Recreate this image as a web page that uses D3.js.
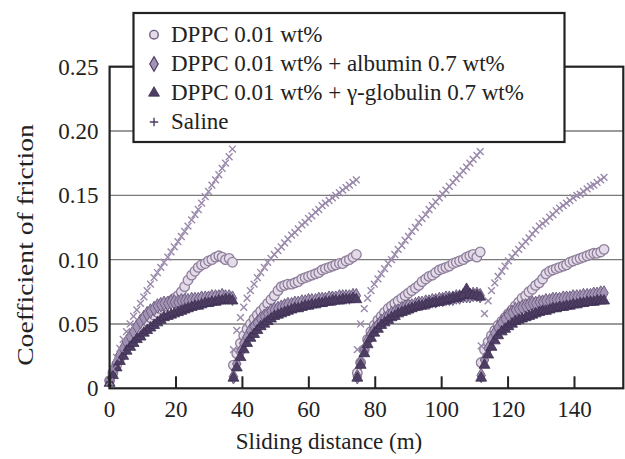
<!DOCTYPE html>
<html>
<head>
<meta charset="utf-8">
<script src="https://cdn.jsdelivr.net/npm/d3@7"></script>
<style>
  body { margin: 0; background: #fff; }
  svg { display: block; }
</style>
</head>
<body>
<div id="chart"></div>
<script>
// Chart size
const width = 625;
const height = 459;
const font = 'Liberation Serif';

// Sliding distance inside one run (m) and where each of the 4 runs starts
const cycleDist = [0, 1, 2.1, 3.1, 4.1, 5.1, 6.2, 7.2, 8.2, 9.3, 10.3, 11.3, 12.3, 13.4, 14.4, 15.4, 16.4, 17.5,
  18.5, 19.5, 20.6, 21.6, 22.6, 23.6, 24.7, 25.7, 26.7, 27.7, 28.8, 29.8, 30.8, 31.9, 32.9, 33.9, 34.9, 36, 37];
const cycleStart = [0, 37.3, 74.6, 111.9];

// Coefficient of friction, one list per run
const dppc = [
  [0.006,0.012,0.018,0.024,0.029,0.033,0.036,0.039,0.042,0.046,0.049,0.052,0.055,0.057,0.059,0.062,0.064,0.066,0.068,0.07,0.072,0.075,0.079,0.084,0.088,0.091,0.094,0.096,0.097,0.099,0.1,0.102,0.103,0.102,0.1,0.101,0.098],
  [0.018,0.027,0.035,0.041,0.046,0.05,0.054,0.057,0.06,0.063,0.066,0.069,0.072,0.076,0.079,0.08,0.081,0.081,0.082,0.083,0.085,0.086,0.087,0.088,0.089,0.09,0.092,0.093,0.094,0.095,0.096,0.097,0.097,0.099,0.1,0.102,0.104],
  [0.012,0.02,0.03,0.038,0.044,0.049,0.053,0.056,0.059,0.062,0.064,0.066,0.068,0.07,0.072,0.074,0.076,0.078,0.08,0.083,0.085,0.087,0.088,0.09,0.092,0.093,0.094,0.095,0.097,0.098,0.099,0.1,0.102,0.103,0.104,0.102,0.106],
  [0.02,0.03,0.036,0.041,0.045,0.049,0.052,0.055,0.058,0.061,0.064,0.067,0.07,0.072,0.075,0.077,0.08,0.082,0.085,0.089,0.091,0.092,0.093,0.094,0.095,0.096,0.098,0.099,0.1,0.101,0.102,0.103,0.104,0.105,0.105,0.106,0.108]
];
const dppcAlbumin = [
  [0.006,0.013,0.02,0.026,0.031,0.036,0.04,0.044,0.048,0.052,0.055,0.058,0.06,0.062,0.064,0.065,0.066,0.066,0.067,0.067,0.067,0.068,0.068,0.068,0.069,0.069,0.069,0.07,0.07,0.07,0.071,0.071,0.071,0.072,0.071,0.071,0.07],
  [0.009,0.019,0.028,0.035,0.04,0.045,0.048,0.051,0.054,0.056,0.058,0.06,0.061,0.062,0.063,0.064,0.065,0.065,0.066,0.066,0.067,0.067,0.068,0.068,0.068,0.069,0.069,0.069,0.07,0.07,0.07,0.071,0.071,0.071,0.071,0.072,0.072],
  [0.009,0.02,0.03,0.037,0.042,0.046,0.049,0.052,0.054,0.056,0.058,0.059,0.06,0.062,0.063,0.064,0.064,0.065,0.066,0.066,0.067,0.067,0.068,0.068,0.069,0.069,0.07,0.07,0.07,0.071,0.071,0.072,0.072,0.072,0.073,0.073,0.072],
  [0.01,0.022,0.031,0.038,0.043,0.047,0.051,0.054,0.057,0.059,0.061,0.062,0.063,0.064,0.065,0.066,0.066,0.067,0.067,0.068,0.068,0.069,0.069,0.069,0.07,0.07,0.07,0.071,0.071,0.071,0.072,0.072,0.072,0.073,0.073,0.074,0.074]
];
const dppcGlobulin = [
  [0.004,0.01,0.016,0.021,0.025,0.029,0.032,0.035,0.038,0.04,0.043,0.045,0.047,0.049,0.051,0.053,0.055,0.056,0.057,0.058,0.059,0.06,0.061,0.062,0.063,0.064,0.064,0.065,0.066,0.066,0.067,0.067,0.068,0.068,0.069,0.069,0.068],
  [0.008,0.016,0.024,0.03,0.035,0.039,0.042,0.045,0.048,0.05,0.052,0.054,0.056,0.057,0.058,0.059,0.06,0.061,0.062,0.062,0.063,0.064,0.064,0.065,0.065,0.066,0.066,0.067,0.067,0.068,0.068,0.068,0.069,0.069,0.069,0.07,0.069],
  [0.008,0.018,0.027,0.034,0.039,0.043,0.046,0.049,0.051,0.053,0.055,0.056,0.058,0.059,0.06,0.061,0.062,0.063,0.064,0.064,0.065,0.066,0.066,0.067,0.067,0.068,0.068,0.069,0.07,0.07,0.071,0.072,0.077,0.073,0.072,0.072,0.071],
  [0.008,0.018,0.026,0.032,0.037,0.041,0.044,0.046,0.048,0.05,0.052,0.053,0.054,0.055,0.056,0.057,0.058,0.059,0.06,0.06,0.061,0.062,0.062,0.063,0.063,0.064,0.064,0.065,0.065,0.066,0.066,0.067,0.067,0.067,0.068,0.068,0.068]
];
const saline = [
  [0.005,0.015,0.024,0.031,0.038,0.044,0.05,0.056,0.061,0.066,0.071,0.076,0.081,0.086,0.09,0.094,0.098,0.102,0.106,0.11,0.114,0.118,0.122,0.126,0.131,0.135,0.139,0.144,0.149,0.153,0.158,0.162,0.166,0.171,0.175,0.18,0.186],
  [0.03,0.045,0.055,0.063,0.07,0.076,0.081,0.086,0.09,0.094,0.098,0.101,0.104,0.107,0.11,0.113,0.116,0.119,0.121,0.124,0.127,0.129,0.132,0.134,0.137,0.139,0.142,0.144,0.146,0.148,0.15,0.152,0.154,0.156,0.158,0.16,0.162],
  [0.03,0.05,0.062,0.07,0.076,0.081,0.085,0.089,0.093,0.097,0.1,0.104,0.108,0.111,0.115,0.118,0.122,0.125,0.129,0.132,0.135,0.139,0.142,0.145,0.148,0.151,0.154,0.157,0.16,0.163,0.166,0.169,0.172,0.175,0.178,0.181,0.184],
  [0.033,0.058,0.068,0.076,0.082,0.087,0.091,0.095,0.099,0.102,0.105,0.108,0.111,0.114,0.117,0.12,0.123,0.126,0.128,0.13,0.133,0.135,0.138,0.14,0.142,0.144,0.146,0.148,0.15,0.151,0.153,0.155,0.157,0.158,0.16,0.162,0.164]
];

const seriesNames = ["DPPC 0.01 wt%", "DPPC 0.01 wt% + albumin 0.7 wt%",
  "DPPC 0.01 wt% + \u03b3-globulin 0.7 wt%", "Saline"];
const xTicks = [0, 20, 40, 60, 80, 100, 120, 140];
const yTicks = [0, 0.05, 0.10, 0.15, 0.20, 0.25];

const svg = d3.select('#chart').append('svg')
  .attr('width', width)
  .attr('height', height);

svg.append('rect').attr('width', width).attr('height', height).attr('fill', '#fff');

const x = d3.scaleLinear().domain([0, 154.7]).range([109.6, 623.3]);
const y = d3.scaleLinear().domain([0, 0.25]).range([388.3, 66.7]);

function label(parent) {
  return parent.append('text')
    .attr('class', 'lbl')
    .style('font-family', font)
    .style('font-size', '23px')
    .attr('fill', '#222');
}

// gridlines
svg.append('g')
  .selectAll('line')
  .data(yTicks.filter(d => d > 0 && d < 0.25))
  .enter().append('line')
  .attr('x1', x.range()[0]).attr('x2', x.range()[1])
  .attr('y1', d => y(d)).attr('y2', d => y(d))
  .attr('stroke', '#7a7a7a')
  .attr('stroke-width', 1.3);

// points: flatten runs into {x, y}
function points(runs) {
  const out = [];
  runs.forEach((run, c) => {
    run.forEach((v, i) => out.push({ x: cycleStart[c] + cycleDist[i], y: v }));
  });
  return out;
}

const plot = svg.append('g');

plot.append('g').selectAll('circle')
  .data(points(dppc))
  .enter().append('circle')
  .attr('cx', d => x(d.x)).attr('cy', d => y(d.y))
  .attr('r', 4.8)
  .attr('fill', '#e3dbe8')
  .attr('stroke', '#8f7f9c')
  .attr('stroke-width', 1.3);

const diamond = d3.symbol().type(d3.symbolDiamond).size(62);
plot.append('g').selectAll('path')
  .data(points(dppcAlbumin))
  .enter().append('path')
  .attr('d', diamond)
  .attr('transform', d => `translate(${x(d.x)},${y(d.y)})`)
  .attr('fill', '#a394b6')
  .attr('stroke', '#6f6082')
  .attr('stroke-width', 1);

const triangle = d3.symbol().type(d3.symbolTriangle).size(52);
plot.append('g').selectAll('path')
  .data(points(dppcGlobulin))
  .enter().append('path')
  .attr('d', triangle)
  .attr('transform', d => `translate(${x(d.x)},${y(d.y)})`)
  .attr('fill', '#4e3e64')
  .attr('stroke', '#3c2f50')
  .attr('stroke-width', 0.8);

const plus = 'M-4.2,0H4.2M0,-4.2V4.2';
const cross = 'M-3.4,-3.4L3.4,3.4M-3.4,3.4L3.4,-3.4';
plot.append('g').selectAll('path')
  .data(points(saline))
  .enter().append('path')
  .attr('d', cross)
  .attr('transform', d => `translate(${x(d.x)},${y(d.y)})`)
  .attr('fill', 'none')
  .attr('stroke', '#9a89ab')
  .attr('stroke-width', 1.4);

// frame
svg.append('rect')
  .attr('x', x.range()[0]).attr('y', y.range()[1])
  .attr('width', x.range()[1] - x.range()[0])
  .attr('height', y.range()[0] - y.range()[1])
  .attr('fill', 'none')
  .attr('stroke', '#222')
  .attr('stroke-width', 2.2);

// x axis ticks (pointing up) and labels
svg.append('g').selectAll('line')
  .data(xTicks)
  .enter().append('line')
  .attr('x1', d => x(d)).attr('x2', d => x(d))
  .attr('y1', y(0)).attr('y2', y(0) - 12)
  .attr('stroke', '#222').attr('stroke-width', 2);

const xLabels = svg.append('g');
xTicks.forEach(d => {
  label(xLabels).attr('x', x(d)).attr('y', 417)
    .attr('text-anchor', 'middle')
    .text(d);
});

const yLabels = svg.append('g');
yTicks.forEach(d => {
  label(yLabels).attr('x', 98.5).attr('y', y(d) + 8)
    .attr('text-anchor', 'end')
    .text(d === 0 ? '0' : d.toFixed(2));
});

label(svg).attr('x', 329).attr('y', 449)
  .attr('text-anchor', 'middle')
  .text('Sliding distance (m)');

// y title is drawn longer than the other text in the scan
label(svg).attr('transform', 'translate(33,245) rotate(-90) scale(1.2,1)')
  .attr('text-anchor', 'middle')
  .text('Coefficient of friction');

// legend
const legend = svg.append('g');
legend.append('rect')
  .attr('x', 133.5).attr('y', 13)
  .attr('width', 431).attr('height', 129)
  .attr('fill', '#fff')
  .attr('stroke', '#222')
  .attr('stroke-width', 2.2);

const rowY = [41.7, 71, 100, 129];
seriesNames.forEach((name, i) => {
  const row = legend.append('g').attr('transform', `translate(154,${rowY[i]})`);
  label(row).attr('x', 17).attr('y', 0).text(name);
  const g = row.append('g').attr('transform', 'translate(0,-7)');
  if (i === 0) {
    g.append('circle').attr('r', 4.3).attr('fill', '#e3dbe8').attr('stroke', '#6f6082').attr('stroke-width', 1.4);
  } else if (i === 1) {
    g.append('path').attr('d', diamond).attr('fill', '#a394b6').attr('stroke', '#4e3e64').attr('stroke-width', 1.2);
  } else if (i === 2) {
    g.append('path').attr('d', triangle).attr('fill', '#4e3e64').attr('stroke', '#3c2f50').attr('stroke-width', 0.8);
  } else {
    g.append('path').attr('d', plus).attr('fill', 'none').attr('stroke', '#4e3e64').attr('stroke-width', 1.4);
  }
});

// re-apply the font once it is ready, in case the first layout used a fallback
if (document.fonts && document.fonts.load) {
  document.fonts.load('23px "Liberation Serif"').then(() => {
    d3.selectAll('text.lbl').style('font-family', '"Liberation Serif", serif');
  });
}
</script>
</body>
</html>
